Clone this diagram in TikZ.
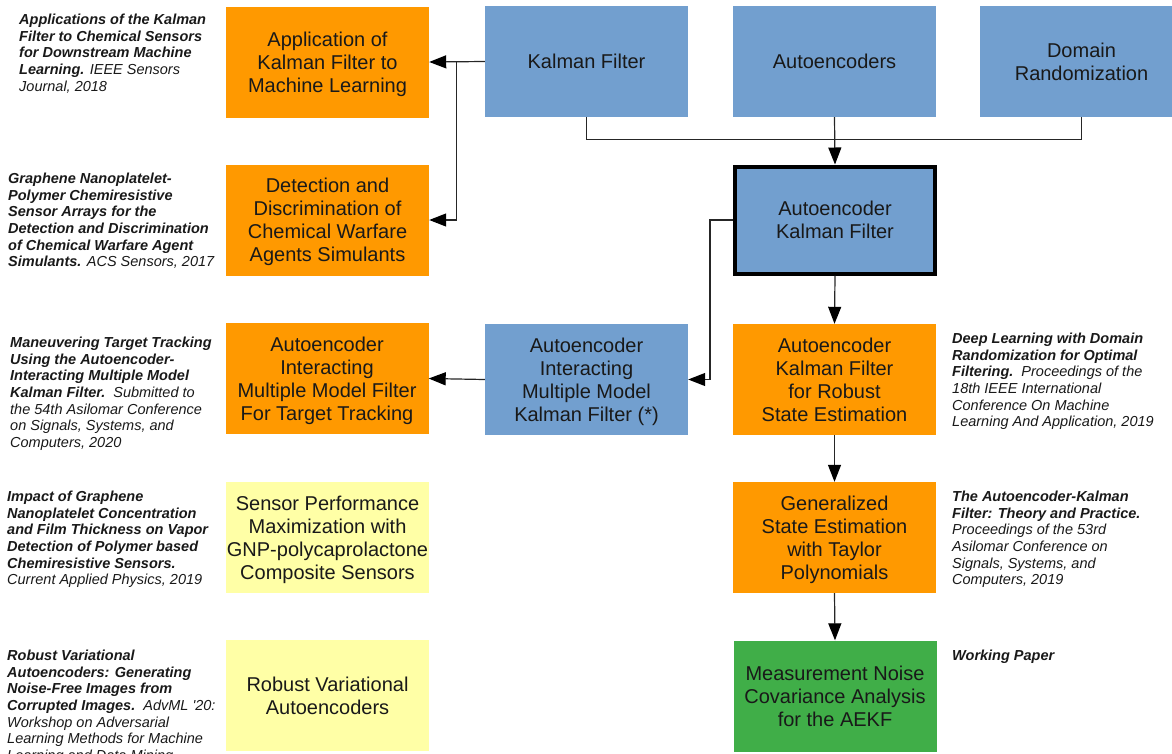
\documentclass[tikz,border=0pt]{standalone}
\usepackage{fontspec}
\setmainfont{Liberation Sans}
\usetikzlibrary{arrows.meta,calc}

\definecolor{boxblue}{RGB}{114,159,207}
\definecolor{boxorange}{RGB}{255,153,0}
\definecolor{boxyellow}{RGB}{255,255,166}
\definecolor{boxgreen}{RGB}{64,174,72}

\tikzset{
  box/.style={minimum width=203pt, minimum height=111pt, inner sep=0pt,
    text depth=0pt,
    align=center, font=\fontsize{20}{23}\selectfont, text=black!90},
  bluebox/.style={box, fill=boxblue},
  orangebox/.style={box, fill=boxorange},
  yellowbox/.style={box, fill=boxyellow},
  greenbox/.style={box, fill=boxgreen},
  keybox/.style={bluebox, draw=black, line width=4pt,
    minimum width=200pt, minimum height=107pt},
  pub/.style={anchor=north west, inner sep=0pt, align=left,
    font=\fontsize{14.5}{16.6}\selectfont\itshape, text=black!90},
  link/.style={draw=black!85, line width=1.2pt},
  arr/.style={link, -{Triangle[length=17pt,width=13pt,color=black]}},
}

\begin{document}
\begin{tikzpicture}[x=1pt,y=-1pt]
\useasboundingbox (0,0) rectangle (1172,753);
\clip (0,0) rectangle (1172,753);

% research topics
\node[bluebox] (kf) at (586.5,61.5) {Kalman Filter};
\node[bluebox] (ae) at (834.5,61.5) {Autoencoders};
\node[bluebox] (dr) at (1081.5,61.5) {Domain\\Randomization};

% projects
\node[orangebox] (app) at (327.5,62) {Application of\\Kalman Filter to\\Machine Learning};
\node[orangebox] (det) at (327.5,220) {Detection and\\Discrimination of\\Chemical Warfare\\Agents Simulants};
\node[keybox] (aekf) at (835,220) {Autoencoder\\Kalman Filter};
\node[bluebox] (aeimm) at (586.5,379.5) {Autoencoder\\Interacting\\Multiple Model\\Kalman Filter (*)};
\node[orangebox] (track) at (327,378.5) {Autoencoder\\Interacting\\Multiple Model Filter\\For Target Tracking};
\node[orangebox] (robust) at (834.5,379.5) {Autoencoder\\Kalman Filter\\for Robust\\State Estimation};
\node[orangebox] (gen) at (834.5,537.5) {Generalized\\State Estimation\\with Taylor\\Polynomials};
\node[yellowbox] (sens) at (327.5,537.5) {Sensor Performance\\Maximization with\\GNP-polycaprolactone\\Composite Sensors};
\node[yellowbox] (rvae) at (327.5,695.5) {Robust Variational\\Autoencoders};
\node[greenbox] (mnc) at (835,696) {Measurement Noise\\Covariance Analysis\\for the AEKF};

% connectors
\coordinate (kfsplit) at ($(kf.west)+(-28,0)$);
\draw[arr] (kf.west) -- (app.east);
\draw[arr] (kfsplit) |- (det.east);
\draw[link] (kf.south) -- ++(0,22) -| (dr.south);
\draw[arr] (ae.south) -- (aekf.north);
\draw[arr] (aekf.west) -- ++(-23,0) |- (aeimm.east);
\draw[arr] (aeimm.west) -- (track.east);
\draw[arr] (aekf.south) -- (robust.north);
\draw[arr] (robust.south) -- (gen.north);
\draw[arr] (gen.south) -- (mnc.north);

% publications
\node[pub] (p1) at (19,14) {\textbf{Applications of the Kalman}\\\textbf{Filter to Chemical Sensors}\\\textbf{for Downstream Machine}\\\textbf{Learning.} IEEE Sensors\\Journal, 2018};
\node[pub] (p2) at (8,173) {\textbf{Graphene Nanoplatelet-}\\\textbf{Polymer Chemiresistive}\\\textbf{Sensor Arrays for the}\\\textbf{Detection and Discrimination}\\\textbf{of Chemical Warfare Agent}\\\textbf{Simulants.} ACS Sensors, 2017};
\node[pub] (p3) at (10,337) {\textbf{Maneuvering Target Tracking}\\\textbf{Using the Autoencoder-}\\\textbf{Interacting Multiple Model}\\\textbf{Kalman Filter.}\ \ Submitted to\\the 54th Asilomar Conference\\on Signals, Systems, and\\Computers, 2020};
\node[pub] (p4) at (7,491) {\textbf{Impact of Graphene}\\\textbf{Nanoplatelet Concentration}\\\textbf{and Film Thickness on Vapor}\\\textbf{Detection of Polymer based}\\\textbf{Chemiresistive Sensors.}\\Current Applied Physics, 2019};
\node[pub] (p5) at (7,650) {\textbf{Robust Variational}\\\textbf{Autoencoders: Generating}\\\textbf{Noise-Free Images from}\\\textbf{Corrupted Images.}\ \ AdvML \textquotesingle20:\\Workshop on Adversarial\\Learning Methods for Machine\\Learning and Data Mining};
\node[pub] (p6) at (952,333) {\textbf{Deep Learning with Domain}\\\textbf{Randomization for Optimal}\\\textbf{Filtering.}\ \ Proceedings of the\\18th IEEE International\\Conference On Machine\\Learning And Application, 2019};
\node[pub] (p7) at (952,491) {\textbf{The Autoencoder-Kalman}\\\textbf{Filter: Theory and Practice.}\\Proceedings of the 53rd\\Asilomar Conference on\\Signals, Systems, and\\Computers, 2019};
\node[pub] (p8) at (952,650) {\textbf{Working Paper}};
\end{tikzpicture}
\end{document}
